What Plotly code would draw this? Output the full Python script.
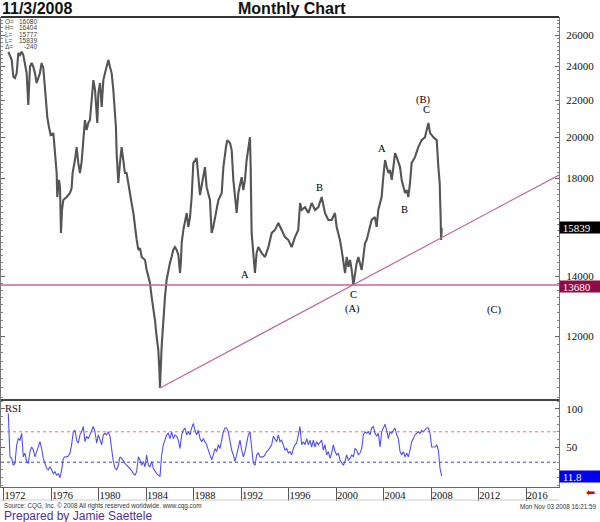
import numpy as np
import plotly.graph_objects as go

# ---------------- data ----------------
price_years = [
    1972.37, 1972.65, 1972.79, 1972.93, 1973.07, 1973.21, 1973.35, 1973.49, 1973.63, 1973.77,
    1973.91, 1974.05, 1974.13, 1974.19, 1974.33, 1974.47, 1974.61, 1974.75, 1974.89, 1975.03,
    1975.17, 1975.31, 1975.40, 1975.54, 1975.65, 1975.79, 1975.93, 1976.16, 1976.30, 1976.44,
    1976.49, 1976.63, 1976.72, 1976.80, 1976.89, 1977.00, 1977.28, 1977.56, 1977.70, 1977.78,
    1977.98, 1978.12, 1978.26, 1978.40, 1978.54, 1978.68, 1978.82, 1978.96, 1979.10, 1979.24,
    1979.38, 1979.53, 1979.67, 1979.81, 1979.86, 1979.95, 1980.09, 1980.23, 1980.37, 1980.51,
    1980.65, 1980.79, 1980.93, 1981.07, 1981.21, 1981.35, 1981.43, 1981.49, 1981.63, 1981.77,
    1981.91, 1982.05, 1982.19, 1982.33, 1982.47, 1982.61, 1982.75, 1982.90, 1983.04, 1983.18,
    1983.32, 1983.46, 1983.60, 1983.88, 1984.02, 1984.30, 1984.44, 1984.58, 1984.72, 1984.86,
    1985.00, 1985.09, 1985.14, 1985.28, 1985.37, 1985.42, 1985.56, 1985.70, 1985.84, 1985.98,
    1986.12, 1986.26, 1986.40, 1986.55, 1986.69, 1986.83, 1986.91, 1986.97, 1987.11, 1987.25,
    1987.39, 1987.53, 1987.67, 1987.81, 1987.95, 1988.23, 1988.37, 1988.51, 1988.93, 1989.07,
    1989.35, 1989.49, 1989.63, 1989.77, 1990.06, 1990.34, 1990.48, 1990.70, 1990.81, 1991.04,
    1991.18, 1991.32, 1991.46, 1991.60, 1991.74, 1991.88, 1992.02, 1992.16, 1992.30, 1992.44,
    1992.58, 1992.72, 1992.78, 1992.86, 1993.00, 1993.14, 1993.28, 1993.42, 1993.71, 1993.99,
    1994.27, 1994.55, 1994.83, 1995.11, 1995.39, 1995.67, 1995.95, 1996.23, 1996.51, 1996.79,
    1996.94, 1997.08, 1997.36, 1997.64, 1997.92, 1998.20, 1998.48, 1998.76, 1999.04, 1999.32,
    1999.60, 1999.88, 2000.02, 2000.30, 2000.44, 2000.59, 2000.73, 2000.87, 2001.01, 2001.15,
    2001.29, 2001.43, 2001.57, 2001.71, 2001.85, 2001.99, 2002.13, 2002.27, 2002.41, 2002.55,
    2002.69, 2002.83, 2002.97, 2003.25, 2003.39, 2003.53, 2003.67, 2003.81, 2003.95, 2004.10,
    2004.24, 2004.38, 2004.52, 2004.66, 2004.80, 2004.94, 2005.08, 2005.22, 2005.36, 2005.50,
    2005.64, 2005.78, 2005.92, 2006.06, 2006.20, 2006.34, 2006.62, 2006.90, 2007.18, 2007.46,
    2007.75, 2007.89, 2008.17, 2008.45, 2008.59, 2008.70, 2008.78, 2008.82, 2008.87,
]
price_values = [
    24900, 24400, 23360, 23280, 23580, 24830, 24700, 24910, 24700, 23970,
    23580, 21720, 22990, 23970, 24200, 23970, 23580, 22990, 23280, 23580,
    24200, 23890, 23160, 22000, 21060, 20530, 20110, 20210, 18950, 18240,
    17150, 17920, 17590, 15640, 16590, 17020, 17150, 17330, 17550, 18240,
    18860, 19500, 18720, 18240, 18760, 19700, 20900, 20370, 20740, 20900,
    22000, 23160, 22580, 21280, 20740, 22400, 22990, 21610, 23160, 23580,
    24070, 24390, 23950, 23580, 22580, 21450, 20530, 19200, 17780, 18720,
    19500, 18860, 18240, 18240, 17780, 17150, 16890, 16460, 15840, 15360,
    14970, 15040, 14700, 14590, 14220, 13750, 13260, 12930, 12500, 11970,
    11580, 11000, 10500, 11670, 12190, 12730, 13260, 13860, 14220, 14480,
    14700, 14970, 15080, 14970, 14780, 14110, 14590, 15240, 15760, 16170,
    16460, 15880, 16290, 17150, 18720, 18950, 18150, 17240, 18520, 17590,
    17020, 15640, 15880, 16290, 17020, 17330, 18520, 19500, 19850, 19700,
    19350, 17920, 17020, 16460, 17330, 17780, 18050, 17460, 17920, 18860,
    19350, 20000, 18520, 15640, 14850, 14110, 14850, 15080, 14850, 14700,
    15080, 15640, 15760, 16040, 15760, 15470, 15360, 15080, 15470, 15760,
    16890, 16590, 16710, 16460, 16890, 16590, 16710, 17150, 16460, 16170,
    16170, 16460, 15880, 15360, 14970, 14590, 14110, 14700, 14330, 14590,
    14220, 13680, 14110, 14480, 14700, 14480, 14220, 14700, 15240, 15360,
    15640, 15880, 16170, 16290, 15880, 16590, 16890, 17150, 18050, 18860,
    18520, 18240, 18380, 17920, 18520, 19200, 19000, 18720, 18520, 17920,
    17590, 17330, 17460, 17150, 17780, 18720, 19000, 19500, 19850, 20000,
    20740, 20210, 20000, 19850, 18520, 17780, 16290, 15360, 15839,
]
assert len(price_years) == len(price_values)

# RSI read at a regular sampling interval along the time axis
RSI_START_YEAR = 1972.365
RSI_STEP_YEARS = 0.1404
rsi_values = [
    94, 37, 35, 26, 28.5, 52.6, 61, 59, 68, 37, 42, 31, 28.5, 44, 50, 46,
    37, 44, 50, 57, 48, 35, 28.5, 22, 20, 24, 20, 15, 17.5, 13, 15, 9.6, 20, 35, 37, 37,
    38, 42, 53, 70, 72, 59, 55, 66, 70, 77, 57, 64, 61, 66, 72, 77, 70, 55, 66, 59,
    53, 66, 68, 66, 70, 64, 44, 31, 22, 20, 26, 37, 35, 31, 28.5, 26, 24, 22, 19, 15,
    13, 17.5, 37, 33, 26, 31, 24, 39.5, 26, 24, 31, 22, 17.5, 15, 13, 11, 39.5, 53, 59, 66,
    68, 61, 70, 61, 66, 64, 59, 48, 66, 72, 75, 66, 70, 66, 75, 81, 72, 66, 72, 61,
    57, 61, 57, 53, 46, 39.5, 33, 39.5, 48, 44, 53, 48, 61, 70, 75, 75, 70, 57, 46, 39.5,
    31, 39.5, 48, 59, 46, 37, 44, 53, 66, 70, 44, 28.5, 26, 39.5, 42, 37, 37, 37, 39.5, 44,
    46, 50, 53, 64, 61, 57, 66, 57, 59, 53, 46, 48, 42, 44, 39.5, 48, 53, 55, 66, 77,
    53, 57, 53, 61, 53, 59, 50, 59, 50, 57, 53, 57, 59, 46, 53, 39.5, 44, 35, 42, 53,
    44, 39.5, 42, 33, 28.5, 26, 31, 39.5, 33, 35, 39.5, 37, 48, 46, 39.5, 42, 48, 66, 70, 68,
    70, 66, 75, 77, 68, 64, 68, 50, 70, 75, 80, 72, 61, 70, 68, 72, 75, 66, 61, 44,
    39.5, 44, 37, 42, 37, 46, 57, 61, 66, 68, 70, 68, 72, 70, 72, 75, 75, 68, 50, 50,
    50, 53, 46, 22, 11.8,
]
rsi_years = RSI_START_YEAR + RSI_STEP_YEARS * np.arange(len(rsi_values))

support_level = 13680
last_close = 15839
last_rsi = 11.8
trend_years = [1985.14, 2018.75]
trend_values = [10500, 18150]
rsi_levels = [70, 30]

x_range = [1971.75, 2018.75]
price_range = [10181, 27235]
rsi_range = [-2.6, 111.8]
year_ticks = list(range(1972, 2017, 4))
# 16000 sits under the last-price box in the reference, so it is not labelled
price_ticks = [12000, 14000, 18000, 20000, 22000, 24000, 26000]
rsi_ticks = [50, 100]

wave_text = ["(B)", "C", "A", "B", "B", "A", "C", "(A)", "(C)"]
wave_years = [2007.33, 2007.55, 2003.81, 1998.56, 2005.70, 1992.30, 2001.43, 2001.34, 2013.28]
wave_values = [22000, 21450, 19450, 17590, 16630, 14070, 13335, 12860, 12830]

info_labels = ["O=", "H=", "L=", "L=", "\u0394="]
info_values = ["16080", "16404", "15777", "15839", "-240"]

# ---------------- figure ----------------
W, H = 600, 522
ML, MR, MT, MB = 1, 41, 17, 35
PW, PH = W - ML - MR, H - MT - MB
RSI_FRAC = (487 - 400) / PH


def px(p):
    return (p - ML) / PW


def py(p):
    return (H - MB - p) / PH


SERIF = "Liberation Serif"
SANS = "Liberation Sans"
PINK = "#c4679a"

fig = go.Figure()
fig.add_trace(go.Scatter(x=price_years, y=price_values, mode="lines",
                         line=dict(color="#555555", width=2.1), xaxis="x", yaxis="y",
                         hoverinfo="skip"))
fig.add_trace(go.Scatter(x=x_range, y=[support_level, support_level], mode="lines",
                         line=dict(color=PINK, width=1.5), xaxis="x", yaxis="y", hoverinfo="skip"))
fig.add_trace(go.Scatter(x=trend_years, y=trend_values, mode="lines",
                         line=dict(color=PINK, width=1.2), xaxis="x", yaxis="y", hoverinfo="skip"))
fig.add_trace(go.Scatter(x=x_range, y=[rsi_levels[0]] * 2, mode="lines",
                         line=dict(color="#ff6a6a", width=1, dash="dot"), xaxis="x", yaxis="y2",
                         hoverinfo="skip"))
fig.add_trace(go.Scatter(x=x_range, y=[rsi_levels[1]] * 2, mode="lines",
                         line=dict(color="#3a3aff", width=1, dash="dot"), xaxis="x", yaxis="y2",
                         hoverinfo="skip"))
fig.add_trace(go.Scatter(x=rsi_years, y=rsi_values, mode="lines",
                         line=dict(color="#5050f4", width=1.1), xaxis="x", yaxis="y2",
                         hoverinfo="skip"))

axis_font = dict(family=SERIF, size=11, color="#111")

fig.update_layout(
    width=W, height=H, margin=dict(l=ML, r=MR, t=MT, b=MB),
    paper_bgcolor="white", plot_bgcolor="white", showlegend=False,
    xaxis=dict(domain=[0, 1], anchor="y2", range=x_range, tickmode="array",
               tickvals=year_ticks, ticktext=[str(t) for t in year_ticks],
               ticks="outside", ticklen=13, tickcolor="#555", tickwidth=1,
               ticklabelshift=11, ticklabelstandoff=-15,
               tickfont=dict(family=SERIF, size=10.5, color="#111"),
               showgrid=False, zeroline=False, showline=True, linecolor="#666", linewidth=1),
    yaxis=dict(domain=[RSI_FRAC, 1], anchor="x", side="right", type="log",
               range=[np.log10(price_range[0]), np.log10(price_range[1])],
               tickmode="array", tickvals=price_ticks, ticktext=[str(t) for t in price_ticks],
               ticks="inside", ticklen=4, tickcolor="#666", ticklabelstandoff=4,
               tickfont=axis_font, showgrid=False, zeroline=False,
               showline=True, linecolor="#777", linewidth=1, mirror="ticks",
               minor=dict(ticks="inside", ticklen=2, tickcolor="#888",
                          tickvals=list(range(10250, 27250, 250)))),
    yaxis2=dict(domain=[0, RSI_FRAC], anchor="x", side="right", range=rsi_range,
                tickmode="array", tickvals=rsi_ticks, ticktext=[str(t) for t in rsi_ticks],
                ticks="inside", ticklen=4, tickcolor="#666", ticklabelstandoff=4,
                tickfont=axis_font, showgrid=False, zeroline=False,
                showline=True, linecolor="#777", linewidth=1, mirror="ticks",
                minor=dict(ticks="inside", ticklen=2, tickcolor="#888",
                           tickvals=list(range(0, 111, 10)))),
)

# frame lines
fig.add_shape(type="line", xref="paper", yref="paper", x0=0, x1=1, y0=1, y1=1,
              line=dict(color="#333", width=2))
fig.add_shape(type="line", xref="paper", yref="paper", x0=0, x1=1, y0=RSI_FRAC, y1=RSI_FRAC,
              line=dict(color="#444", width=2))
fig.add_shape(type="line", xref="paper", yref="paper", x0=0, x1=1, y0=py(500), y1=py(500),
              line=dict(color="#cccccc", width=1))

ann = []
# titles
ann.append(dict(text="<b>11/3/2008</b>", xref="paper", yref="paper", x=px(0), y=py(9),
                xanchor="left", yanchor="middle", showarrow=False,
                font=dict(family=SANS, size=16, color="#111")))
ann.append(dict(text="<b>Monthly Chart</b>", xref="paper", yref="paper", x=px(292), y=py(9),
                xanchor="center", yanchor="middle", showarrow=False,
                font=dict(family=SANS, size=16, color="#111")))
# info box
for i, (lab, val) in enumerate(zip(info_labels, info_values)):
    yy = py(21 + 6.5 * i)
    ann.append(dict(text=lab, xref="paper", yref="paper", x=px(3), y=yy, xanchor="left",
                    yanchor="middle", showarrow=False,
                    font=dict(family=SANS, size=6.5, color="#444")))
    ann.append(dict(text=val, xref="paper", yref="paper", x=px(39), y=yy, xanchor="right",
                    yanchor="middle", showarrow=False,
                    font=dict(family=SANS, size=6.5, color="#444")))
# wave labels
for t, xv, yv in zip(wave_text, wave_years, wave_values):
    ann.append(dict(text=t, x=xv, y=np.log10(yv), xref="x", yref="y", showarrow=False,
                    xanchor="center", yanchor="middle",
                    font=dict(family=SERIF, size=10.5, color="#000000")))
# RSI label
ann.append(dict(text="RSI", xref="paper", yref="paper", x=px(3), y=py(408), xanchor="left",
                yanchor="middle", showarrow=False, font=dict(family=SERIF, size=10.5, color="#111")))
# value boxes
for val, yref, yv, bg, shift in [(last_close, "y", np.log10(last_close), "#000000", 0),
                                 (support_level, "y", np.log10(support_level), "#8e0b45", -1),
                                 (last_rsi, "y2", last_rsi, "#0000ee", 0)]:
    ann.append(dict(text=" " + str(val), xref="paper", yref=yref, x=1, y=yv, yshift=shift,
                    xanchor="left", yanchor="middle", showarrow=False, align="left",
                    width=41, height=11, bgcolor=bg, borderpad=0,
                    font=dict(family=SERIF, size=11, color="white")))
# footer
ann.append(dict(text="Source: CQG, Inc. \u00a9 2008 All rights reserved worldwide. www.cqg.com",
                xref="paper", yref="paper", x=px(2), y=py(506), xanchor="left", yanchor="middle",
                showarrow=False, font=dict(family=SANS, size=6.3, color="#333")))
ann.append(dict(text="Prepared by Jamie Saettele", xref="paper", yref="paper", x=px(2),
                y=py(516), xanchor="left", yanchor="middle", showarrow=False,
                font=dict(family=SANS, size=12, color="#5230a0")))
ann.append(dict(text="Mon Nov 03 2008 16:21:59", xref="paper", yref="paper", x=px(598),
                y=py(506), xanchor="right", yanchor="middle", showarrow=False,
                font=dict(family=SANS, size=6.3, color="#333")))
ann.append(dict(text="\u2b05", xref="paper", yref="paper", x=px(590), y=py(493),
                xanchor="center", yanchor="middle", showarrow=False,
                font=dict(family="DejaVu Sans", size=11, color="#e00000")))
fig.update_layout(annotations=ann)

fig.write_html("out.html")
